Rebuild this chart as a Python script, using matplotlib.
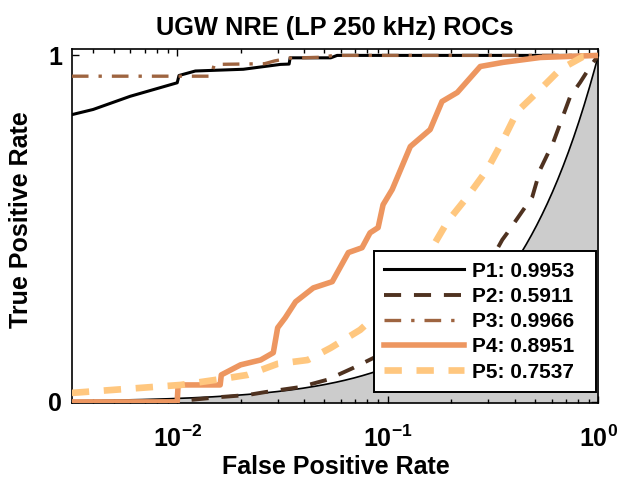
import numpy as np
import matplotlib
matplotlib.use("Agg")
import matplotlib.pyplot as plt
from matplotlib.ticker import LogLocator, NullFormatter, FixedLocator

# ROC-kurvor (FPR, TPR)
p1_fpr = [0.00316, 0.00399, 0.00598, 0.0100, 0.0102, 0.0122, 0.0206, 0.0309, 0.0340, 0.0344, 0.0536, 0.0575, 1.0]
p1_tpr = [0.829, 0.844, 0.882, 0.921, 0.942, 0.955, 0.960, 0.974, 0.975, 0.993, 0.993, 1.0, 1.0]

p2_fpr = [0.00316, 0.0100, 0.0160, 0.0216, 0.0266, 0.0385, 0.0516, 0.0685, 0.150, 0.250, 0.330, 0.350, 0.370,
          0.486, 0.530, 0.611, 0.736, 0.820, 0.916, 1.0]
p2_tpr = [0.0, 0.002, 0.014, 0.020, 0.029, 0.043, 0.064, 0.098, 0.20, 0.33, 0.44, 0.468, 0.488,
          0.592, 0.671, 0.749, 0.882, 0.922, 0.968, 1.0]

p3_fpr = [0.00316, 0.0145, 0.0150, 0.0260, 0.0290, 0.0340, 0.0500, 0.0550, 1.0]
p3_tpr = [0.940, 0.940, 0.974, 0.976, 0.984, 0.992, 0.995, 1.0, 1.0]

p4_fpr = [0.00316, 0.0100, 0.0101, 0.0160, 0.0162, 0.0200, 0.0249, 0.0286, 0.0300, 0.0326, 0.0365, 0.0443,
          0.0545, 0.0650, 0.0755, 0.0824, 0.0900, 0.0950, 0.1050, 0.128, 0.159, 0.181, 0.214, 0.275,
          0.354, 0.530, 1.0]
p4_tpr = [0.0, 0.0, 0.049, 0.049, 0.078, 0.107, 0.121, 0.142, 0.214, 0.243, 0.289, 0.329,
          0.347, 0.431, 0.445, 0.488, 0.503, 0.569, 0.613, 0.737, 0.786, 0.867, 0.893, 0.968,
          0.980, 0.994, 1.0]

p5_fpr = [0.00316, 0.0104, 0.0154, 0.0216, 0.0300, 0.0417, 0.0536, 0.0740, 0.100, 0.130, 0.168, 0.192,
          0.239, 0.297, 0.354, 0.412, 0.530, 0.660, 0.850, 1.0]
p5_tpr = [0.026, 0.049, 0.064, 0.078, 0.110, 0.121, 0.156, 0.208, 0.28, 0.37, 0.46, 0.52,
          0.592, 0.671, 0.757, 0.838, 0.902, 0.960, 0.997, 1.0]

etiketter = ["P1: 0.9953", "P2: 0.5911", "P3: 0.9966", "P4: 0.8951", "P5: 0.7537"]

plt.rcParams['font.family'] = ['Liberation Sans', 'DejaVu Sans']
plt.rcParams['font.weight'] = 'bold'
plt.rcParams['mathtext.fontset'] = 'custom'
plt.rcParams['mathtext.rm'] = 'Liberation Sans:bold'
plt.rcParams['mathtext.it'] = 'Liberation Sans:bold'
plt.rcParams['mathtext.bf'] = 'Liberation Sans:bold'
plt.rcParams['mathtext.default'] = 'rm'
plt.rcParams['axes.unicode_minus'] = False

fig = plt.figure(figsize=(6.2, 4.82), dpi=100)
ax = fig.add_axes([0.116, 0.164, 0.849, 0.734])

# Slumplinje (y = x) med grå yta under
xmin = 10 ** -2.5
chans = np.logspace(-2.5, 0, 300)
ax.fill_between(chans, 0, chans, color='#cccccc', zorder=1)
ax.plot(chans, chans, color='black', lw=1.2, zorder=2)

farger = [plt.cm.copper(v) for v in (0.0, 0.25, 0.5, 0.75, 1.0)]

ax.plot(p1_fpr, p1_tpr, '-', color=farger[0], lw=2.2, label=etiketter[0] + "  ", zorder=3)
ax.plot(p2_fpr, p2_tpr, color=farger[1], lw=2.8, dashes=(4.4, 3.3), label=etiketter[1] + "  ", zorder=3)
ax.plot(p3_fpr, p3_tpr, color=farger[2], lw=2.4, dashes=(5, 3, 1, 3), label=etiketter[2] + "  ", zorder=3)
ax.plot(p4_fpr, p4_tpr, '-', color=farger[3], lw=4.0, label=etiketter[3] + "  ", zorder=3)
ax.plot(p5_fpr, p5_tpr, color=farger[4], lw=4.8, dashes=(2.6, 2.2), label=etiketter[4] + "  ", zorder=3)

ax.set_xscale('log')
ax.set_xlim(xmin, 1)
ax.set_ylim(-0.003, 1.018)
ax.yaxis.set_major_locator(FixedLocator([0, 1]))
ax.xaxis.set_major_locator(LogLocator(base=10, numticks=10))
ax.xaxis.set_minor_locator(LogLocator(base=10, subs=np.arange(2, 10), numticks=20))
ax.xaxis.set_minor_formatter(NullFormatter())
ax.set_yticklabels(['0', '1'])

ax.tick_params(which='both', direction='in', top=True, right=True, labelsize=18, width=1)
ax.tick_params(which='major', length=5)
ax.tick_params(which='minor', length=3)
ax.tick_params(axis='x', which='major', pad=16)
ax.tick_params(axis='y', which='major', pad=7)
for s in ax.spines.values():
    s.set_linewidth(1.2)

ax.set_title("UGW NRE (LP 250 kHz) ROCs", fontsize=18.3, fontweight='bold', pad=10)
ax.set_xlabel("False Positive Rate", fontsize=18, fontweight='bold')
ax.set_ylabel("True Positive Rate", fontsize=18, fontweight='bold')
ax.xaxis.set_label_coords(0.502, -0.148)
ax.yaxis.set_label_coords(-0.074, 0.517)

leg = ax.legend(loc='lower right', bbox_to_anchor=(0.9962, 0.031), fontsize=15, handlelength=3.85,
                handletextpad=0.38, labelspacing=0.3, borderpad=0.5, fancybox=False,
                framealpha=1, edgecolor='black', borderaxespad=0)
leg.get_frame().set_linewidth(1.4)

fig.savefig("out.png", dpi=100)
